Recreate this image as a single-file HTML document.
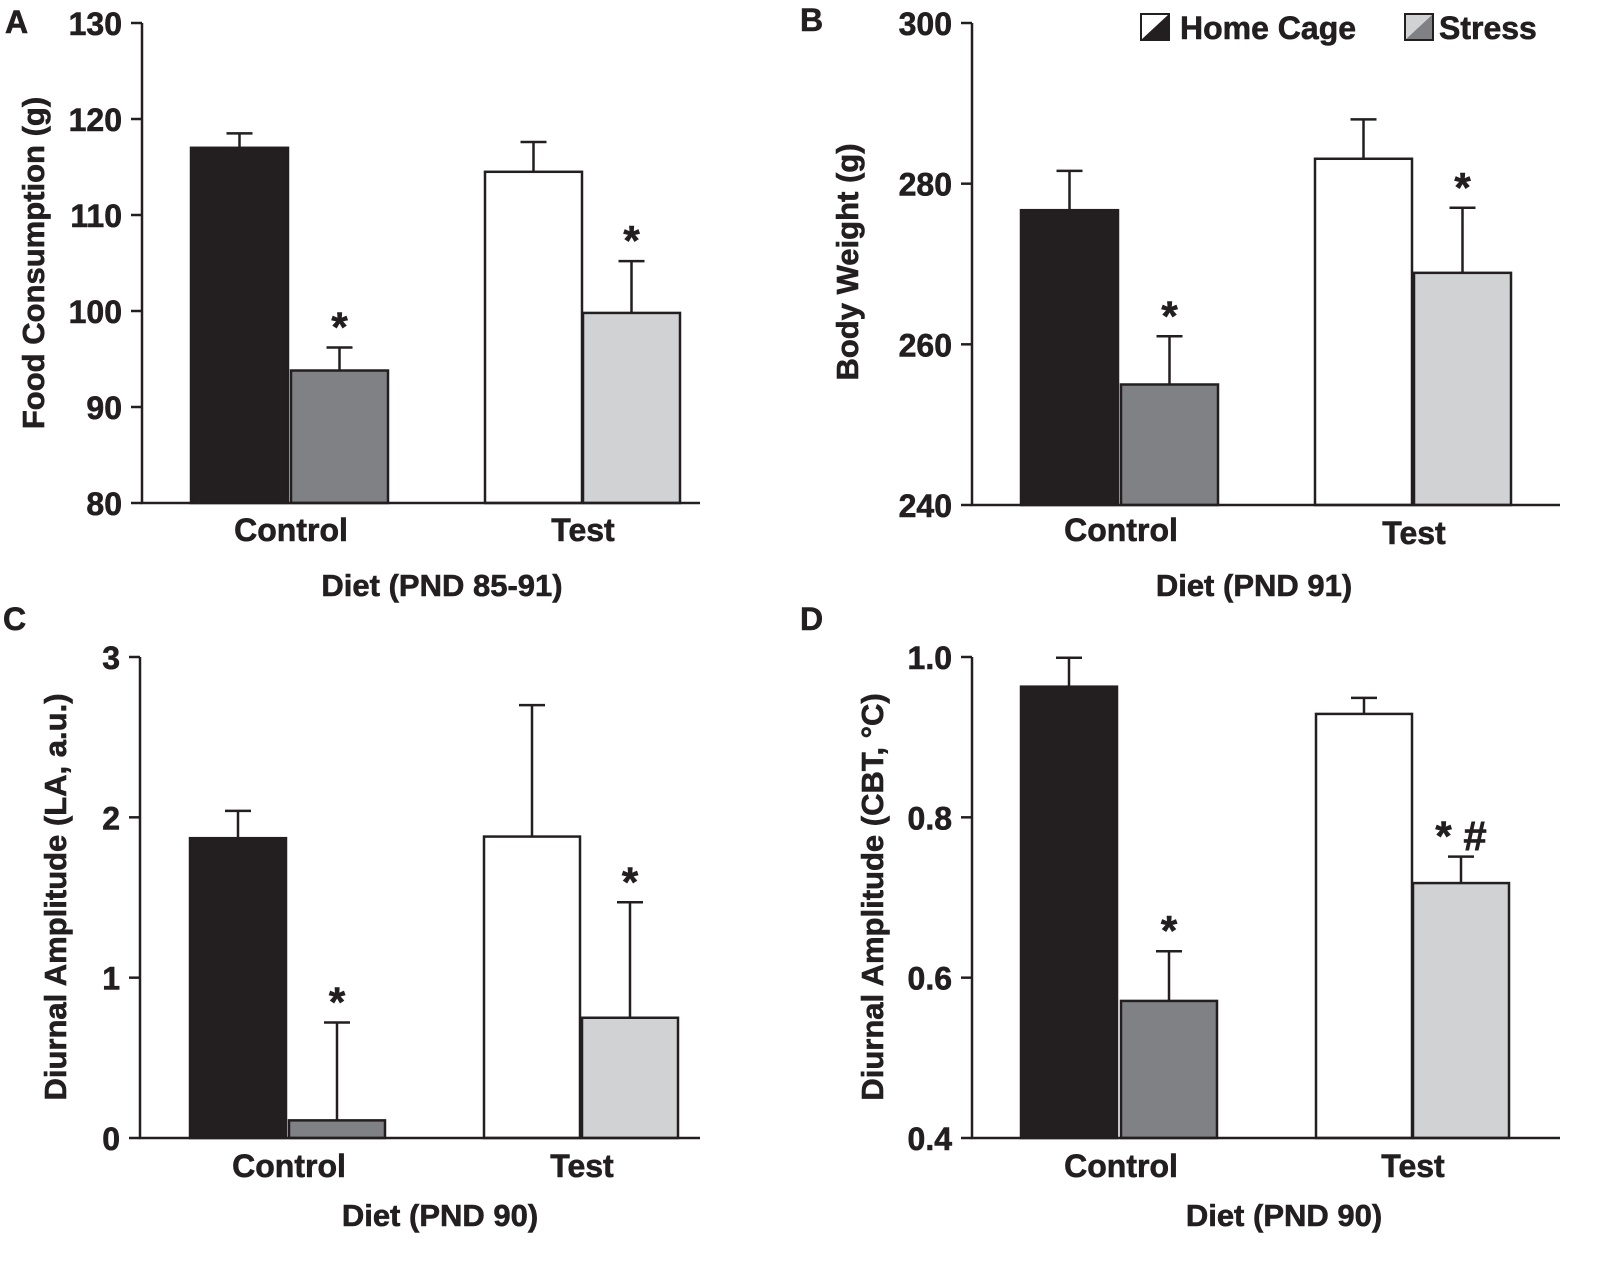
<!DOCTYPE html>
<html><head><meta charset="utf-8"><style>
html,body{margin:0;padding:0;background:#fff}
svg text{font-family:"Liberation Sans",Arial,sans-serif;font-weight:bold;fill:#231f20;stroke:#231f20;stroke-width:0.6}
</style></head><body>
<svg id="fig" width="1613" height="1273" viewBox="0 0 1613 1273" xmlns="http://www.w3.org/2000/svg"></svg>
<script>
// Panel A
const aTicks = [80, 90, 100, 110, 120, 130];
const aMeans = [117, 93.8, 114.5, 99.8];
const aErrs = [1.5, 2.4, 3.1, 5.4];
// Panel B
const bTicks = [240, 260, 280, 300];
const bMeans = [276.7, 255, 283.1, 268.9];
const bErrs = [4.9, 6, 4.9, 8.1];
// Panel C
const cTicks = [0, 1, 2, 3];
const cMeans = [1.87, 0.11, 1.88, 0.75];
const cErrs = [0.17, 0.61, 0.82, 0.72];
// Panel D
const dTicks = [0.4, 0.6, 0.8, 1.0];
const dTickLabels = ["0.4", "0.6", "0.8", "1.0"];
const dMeans = [0.963, 0.571, 0.929, 0.718];
const dErrs = [0.036, 0.062, 0.02, 0.033];
const categories = ["Control", "Test"];
const marks = [["", "*", "", "*"], ["", "*", "", "*"], ["", "*", "", "*"], ["", "*", "", "* #"]];

const NS = "http://www.w3.org/2000/svg";
const svg = document.getElementById("fig");
function mk(tag, attrs, parent, text) {
  const e = document.createElementNS(NS, tag);
  for (const k in attrs) e.setAttribute(k, attrs[k]);
  if (text !== undefined) e.textContent = text;
  (parent || svg).appendChild(e);
  return e;
}
const fills = ["#231f20", "#808184", "#ffffff", "#d1d2d4"];
const panels = [
  {id:"a", letter:"A", lx:5, ly:33, ax:142, yTop:23, yBot:503, xEnd:700, ticks:aTicks, labels:aTicks.map(String), means:aMeans, errs:aErrs,
   bars:[191,291,485,583], bw:97, title:"Food Consumption (g)", tx:33, ty:263, catY:[541,541], diet:"Diet (PND 85-91)", dietX:442, dietY:596},
  {id:"b", letter:"B", lx:800, ly:31, ax:972, yTop:23, yBot:505, xEnd:1560, ticks:bTicks, labels:bTicks.map(String), means:bMeans, errs:bErrs,
   bars:[1021,1121,1315,1414], bw:97, title:"Body Weight (g)", tx:847, ty:262, catY:[541,544], diet:"Diet (PND 91)", dietX:1254, dietY:596},
  {id:"c", letter:"C", lx:3, ly:630, ax:140, yTop:657, yBot:1138, xEnd:700, ticks:cTicks, labels:cTicks.map(String), means:cMeans, errs:cErrs,
   bars:[190,289,484,582], bw:96, title:"Diurnal Amplitude (LA, a.u.)", tx:55, ty:897, catY:[1177,1177], diet:"Diet (PND 90)", dietX:440, dietY:1226},
  {id:"d", letter:"D", lx:800, ly:630, ax:972, yTop:657, yBot:1138, xEnd:1560, ticks:dTicks, labels:dTickLabels, means:dMeans, errs:dErrs,
   bars:[1021,1121,1316,1413], bw:96, title:"Diurnal Amplitude (CBT, °C)", tx:872, ty:897, catY:[1177,1177], diet:"Diet (PND 90)", dietX:1284, dietY:1226}
];
panels.forEach((p, pi) => {
  const g = mk("g", {});
  
  
  const lo = p.ticks[0], hi = p.ticks[p.ticks.length - 1];
  const y = v => p.yBot - (v - lo) / (hi - lo) * (p.yBot - p.yTop);
  const pl = mk("text", {x:p.lx, y:p.ly, "font-size":32}, g, p.letter);
  
  
  p.means.forEach((m, i) => {
    const x = p.bars[i], yv = y(m), ye = y(m + p.errs[i]), cx = x + p.bw / 2;
    const eb = mk("path", {d:`M${cx},${yv} V${ye} M${cx-13},${ye} H${cx+13}`, stroke:"#231f20", "stroke-width":2.5, fill:"none"}, g);
    
    
    const r = mk("rect", {x:x, y:yv, width:p.bw, height:p.yBot - yv, fill:fills[i], stroke:"#231f20", "stroke-width":2.5}, g);
    
    
    if (marks[pi][i]) {
      const s = mk("text", {x:cx, y:ye - 6, "font-size":42, "text-anchor":"middle"}, g, marks[pi][i]);
      
      
    }
  });
  const ax = mk("path", {d:`M${p.ax},${p.yTop} V${p.yBot} H${p.xEnd}`, stroke:"#231f20", "stroke-width":2.5, fill:"none"}, g);
  
  
  p.ticks.forEach((t, i) => {
    const ty = y(t);
    const tk = mk("line", {x1:p.ax - 11, x2:p.ax, y1:ty, y2:ty, stroke:"#231f20", "stroke-width":2.5}, g);
    
    
    const tl = mk("text", {x:p.ax - 20, y:ty + 12, "font-size":32, "text-anchor":"end"}, g, p.labels[i]);
    
    
  });
  categories.forEach((c, ci) => {
    const cx = p.bars[ci * 2 + 1];
    const cl = mk("text", {x:cx, y:p.catY[ci], "font-size":32, "text-anchor":"middle"}, g, c);
    
    
  });
  const xt = mk("text", {x:p.dietX, y:p.dietY, "font-size":31, "text-anchor":"middle"}, g, p.diet);
  
  
  const yt = mk("text", {x:0, y:0, "font-size":31, "text-anchor":"middle", transform:`translate(${p.tx + 11},${p.ty}) rotate(-90)`}, g, p.title);
  
  
});
const leg = mk("g", {});


[[1141, "#231f20", "#ffffff", "Home Cage", 1180], [1405, "#808184", "#d1d2d4", "Stress", 1439]].forEach(([x, c1, c2, lab, tx]) => {
  const e = mk("g", {}, leg);
  
  
  mk("polygon", {points:`${x},${14} ${x+28},${14} ${x},${40}`, fill:c2}, e);
  mk("polygon", {points:`${x+28},${14} ${x+28},${40} ${x},${40}`, fill:c1}, e);
  mk("rect", {x:x, y:14, width:28, height:26, fill:"none", stroke:"#231f20", "stroke-width":2}, e);
  mk("text", {x:tx, y:39, "font-size":32}, e, lab);
});
</script>
</body></html>
